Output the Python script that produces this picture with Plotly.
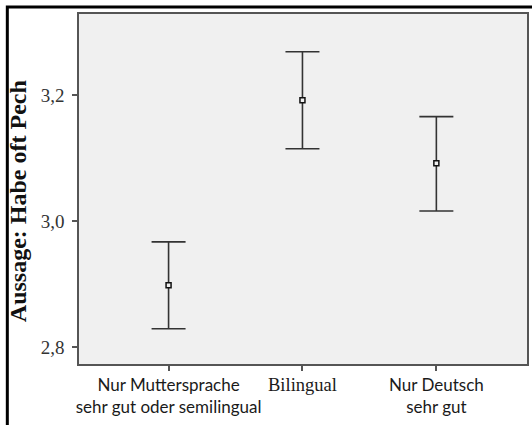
import plotly.graph_objects as go

# Gruppen und Mittelwerte mit 95%-Konfidenzintervall
gruppen = [
    "Nur Muttersprache<br>sehr gut oder semilingual",
    "<span style='font-family:Liberation Serif;font-size:18.5px'>Bilingual</span>",
    "Nur Deutsch<br>sehr gut",
]
mittelwerte = [2.898, 3.192, 3.092]
ki_oben = [2.967, 3.269, 3.166]
ki_unten = [2.829, 3.115, 3.016]
y_ticks = [2.8, 3.0, 3.2]

x_pos = list(range(len(gruppen)))
plus = [o - m for o, m in zip(ki_oben, mittelwerte)]
minus = [m - u for m, u in zip(mittelwerte, ki_unten)]

fig = go.Figure()
fig.add_trace(go.Scatter(
    x=x_pos, y=mittelwerte, mode="markers",
    marker=dict(symbol="square", size=5, color="#f0f0f0",
                line=dict(color="#111111", width=1.5)),
    error_y=dict(type="data", symmetric=False, array=plus, arrayminus=minus,
                 color="#333333", thickness=1.6, width=17),
    showlegend=False, hoverinfo="skip",
))

fig.update_layout(
    width=532, height=425,
    margin=dict(l=79, r=3, t=14, b=61),
    paper_bgcolor="white", plot_bgcolor="#f0f0f0",
    separators=",.",
    xaxis=dict(
        range=[-0.669, 2.677], tickmode="array", tickvals=x_pos, ticktext=gruppen,
        showline=True, mirror=True, linecolor="#555555", linewidth=1.5,
        ticks="outside", ticklen=5, tickcolor="#555555", tickwidth=1.5,
        showgrid=False, zeroline=False,
        tickfont=dict(family="Lato", size=17, color="#1a1a1a"),
    ),
    yaxis=dict(
        range=[2.773, 3.329], tickmode="array", tickvals=y_ticks, tickformat=".1f",
        showline=True, mirror=True, linecolor="#555555", linewidth=1.5,
        ticks="outside", ticklen=5, tickcolor="#555555", tickwidth=1.5,
        ticklabelstandoff=4,
        showgrid=False, zeroline=False,
        tickfont=dict(family="Liberation Serif", size=19, color="#333333"),
    ),
    annotations=[dict(
        text="<b>Aussage: Habe oft Pech</b>", textangle=-90,
        xref="paper", yref="paper", x=-0.1356, y=0.466,
        xanchor="center", yanchor="middle", showarrow=False,
        font=dict(family="Liberation Serif", size=24, color="#111111"),
    )],
    shapes=[dict(
        type="rect", xref="paper", yref="paper",
        x0=-0.16, x1=1.1, y0=-0.3, y1=1.02,
        line=dict(color="black", width=3), fillcolor="rgba(0,0,0,0)",
        layer="below",
    )],
)

fig.write_html("out.html")
